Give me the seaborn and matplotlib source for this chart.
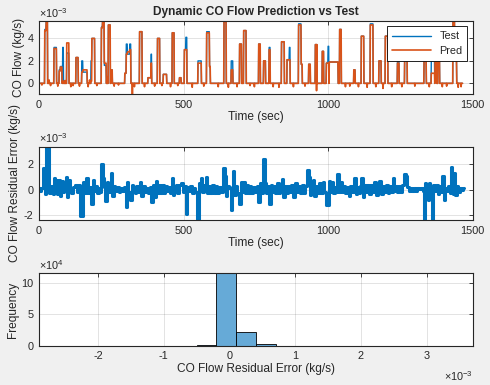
import matplotlib
matplotlib.use("Agg")
import matplotlib.pyplot as plt
from matplotlib.ticker import FuncFormatter
import seaborn as sns
import numpy as np
import pandas as pd

# ---- top panel: flow pulses (levels in 1e-3 kg/s) ----
pulse_start = [20, 25, 52, 70, 74, 82, 96, 128, 148, 152, 180, 183, 216, 220, 226, 240, 249,
               297, 302, 306, 314, 348, 377, 388, 410, 430, 461, 486, 503, 508, 550, 580, 590,
               640, 665, 694, 708, 760, 777, 796, 839, 858, 866, 898, 907, 933, 956, 980, 994,
               1000, 1004, 1040, 1089, 1115, 1146, 1176, 1198, 1240, 1265, 1332, 1357, 1370,
               1380, 1432, 1438]
pulse_end = [25, 30, 61, 74, 80, 85, 104, 136, 152, 167, 183, 193, 220, 226, 233, 247, 254,
             302, 306, 314, 318, 357, 388, 390, 418, 442, 468, 492, 508, 512, 562, 590, 593,
             648, 671, 701, 717, 766, 784, 800, 849, 866, 869, 907, 911, 939, 962, 985, 1000,
             1003, 1035, 1046, 1094, 1124, 1156, 1184, 1207, 1246, 1274, 1340, 1369, 1376,
             1386, 1438, 1445]
test_level = [4.8, 5.55, 3.2, 1.2, 1.5, 3.2, 2.7, 2.3, 2.0, 1.0, 2.0, 4.0, 5.0, 5.55, 1.6, 5.2, 1.2,
              0.9, 3.5, 2.6, 3.5, 4.6, 0.5, 2.6, 4.0, 0.8, 4.5, 0.5, 3.0, 4.1, 2.0, 4.6, 1.5,
              5.5, 2.0, 3.5, 4.7, 3.5, 2.0, 3.2, 3.7, 2.1, 3.2, 5.3, 1.7, 1.7, 3.45, 2.85, 1.8,
              3.3, 1.9, 4.8, 1.2, 4.2, 5.3, 2.0, 4.2, 2.0, 2.6, 2.0, 2.0, 2.0,
              2.5, 5.55, 2.2]
pred_level = [4.7, 5.5, 3.1, 1.1, 1.45, 0.2, 3.6, 2.3, 1.0, 1.2, 0.2, 4.0, 4.95, 5.5, 1.8, 5.2, 1.2,
              0.9, 2.6, 2.8, 3.0, 4.6, 0.5, 1.8, 4.0, 0.8, 4.5, 0.5, 3.0, 3.0, 1.8, 4.5, 1.5,
              5.5, 1.2, 3.5, 4.7, 3.5, 2.0, 3.0, 3.7, 2.1, 2.1, 5.2, 1.7, 1.7, 3.45, 2.85, 1.8,
              1.8, 1.9, 4.8, 1.2, 4.2, 5.2, 2.0, 4.2, 1.8, 2.6, 2.0, 0.9, 2.0,
              2.5, 5.55, 2.2]
# small wiggles of the prediction around zero
wiggle_t = [10, 35, 40, 65, 90, 110, 118, 140, 170, 175, 200, 235, 260, 275, 323, 330, 365, 400,
            425, 455, 480, 530, 570, 620, 655, 685, 730, 745, 810, 830, 880, 920, 960, 1060,
            1075, 1105, 1135, 1165, 1190, 1220, 1255, 1300, 1350, 1395, 1410, 1450, 1460]
wiggle_v = [-0.15, 0.3, -0.2, -0.25, 0.25, -0.3, -0.2, -0.25, -0.3, 0.3, -0.2, 0.6, -0.25, -0.15,
            -0.95, -0.3, -0.3, -0.25, -0.2, -0.3, -0.2, -0.35, -0.25, -0.3, -0.35, -0.3, -0.2,
            -0.3, -0.3, -0.35, -0.3, -0.25, -0.65, -0.3, -0.25, -0.3, -0.35, -0.3, -0.45, -0.3,
            -0.3, -0.25, -0.3, -0.3, -0.25, -0.35, -0.3]
t_end = 1465

# ---- middle panel: residual error (1e-3 kg/s) ----
res_t = [0, 5, 12, 18, 22, 28, 31, 33, 36, 41, 45, 50, 53, 57, 60, 65, 70, 75, 80, 85, 90, 96, 99,
         104, 108, 116, 122, 128, 132, 138, 145, 148, 152, 155, 160, 168, 172, 178, 183, 188, 193,
         198, 204, 210, 214, 218, 222, 226, 232, 236, 241, 247, 252, 256, 261, 266, 272, 278, 284,
         290, 296, 303, 307, 312, 318, 322, 328, 334, 340, 346, 352, 357, 362, 368, 374, 380, 386,
         391, 395, 400, 406, 411, 416, 422, 428, 434, 440, 446, 452, 457, 462, 466, 470, 476, 481,
         487, 494, 500, 505, 511, 515, 520, 526, 532, 538, 543, 547, 551, 555, 560, 563, 568, 574,
         580, 584, 590, 596, 602, 608, 614, 620, 626, 632, 640, 644, 648, 654, 660, 666, 671, 674,
         678, 684, 689, 695, 699, 704, 710, 714, 720, 726, 732, 738, 744, 750, 755, 761, 766, 771,
         776, 780, 784, 788, 794, 799, 803, 808, 814, 820, 826, 832, 838, 843, 848, 853, 858, 864,
         870, 876, 882, 888, 894, 900, 906, 912, 918, 924, 931, 934, 938, 944, 950, 955, 960, 966,
         972, 978, 984, 990, 995, 1001, 1005, 1010, 1015, 1020, 1026, 1030, 1035, 1039, 1044,
         1050, 1056, 1062, 1068, 1074, 1080, 1086, 1093, 1097, 1102, 1108, 1113, 1118, 1122,
         1128, 1133, 1139, 1145, 1150, 1156, 1162, 1168, 1174, 1180, 1186, 1192, 1198, 1203,
         1208, 1214, 1220, 1226, 1231, 1237, 1242, 1248, 1254, 1260, 1266, 1272, 1276, 1282,
         1288, 1294, 1300, 1306, 1312, 1318, 1324, 1330, 1335, 1338, 1342, 1346, 1350, 1356,
         1361, 1365, 1370, 1376, 1381, 1386, 1392, 1399, 1403, 1408, 1413, 1418, 1422, 1427,
         1431, 1434, 1438, 1442, 1447, 1452, 1458, 1464, 1470]
res_v = [0.1, -0.1, 0.15, 1.75, -0.35, 3.4, 0.2, 3.3, -0.3, -0.25, 0.3, -0.35, 0.9, 0.1, 0.8, -0.35,
         0.8, -0.5, 0.7, -0.2, 0.3, 1.0, -0.6, 0.8, 0.1, -0.25, 0.2, 0.4, -0.2, 0.35, -2.1, -2.0,
         -2.1, 0.6, -0.3, 0.9, -0.25, 0.2, -1.1, 0.8, -0.1, 0.3, -0.25, 0.1, -0.2, 2.0, 0.9, 0.2,
         -0.9, 0.6, -0.2, 0.3, 1.35, -0.5, 0.3, -0.1, 0.2, -0.2, 0.15, -0.1, 0.2, -1.35, 0.6, -0.2,
         -0.85, 0.4, -0.1, -0.25, 0.3, -0.2, 0.6, -0.5, 0.3, -0.2, 0.15, -0.3, 0.2, -0.95, 0.4,
         -0.6, 0.65, -0.25, 0.4, -0.3, 0.4, -0.25, 0.3, -0.1, 0.2, -0.3, 0.9, -0.4, 0.3, 0.4, -0.3,
         0.35, 0.5, -0.2, 0.3, -1.95, 0.2, -0.1, 0.25, -0.3, 0.1, -0.2, -2.35, -2.35, 0.5, 0.1, 0.9,
         -0.2, 0.4, 1.0, -0.3, 0.3, -0.3, 0.4, -0.25, 0.3, -0.3, 0.2, -0.2, 1.75, 1.1, -0.5, 0.3,
         0.1, -1.6, 0.2, 1.45, -0.4, 0.3, -0.25, -1.1, 0.6, -0.2, 0.6, -0.25, 0.4, -0.3, 0.3,
         -0.25, 0.2, -0.2, 0.3, -1.0, 0.55, -0.3, 2.45, 2.4, 0.5, -0.3, 0.3, -1.1, 0.4, -0.2, 0.3,
         -0.25, 0.5, -0.3, 0.3, 0.85, -0.6, 0.3, -0.25, 0.3, -0.2, 0.4, -0.6, 0.55, -0.2, 0.3,
         -0.3, 0.4, -0.3, 0.3, 1.55, 1.0, -0.4, 0.3, 0.75, -0.5, 0.3, -0.3, 0.55, -0.25, 0.6,
         -0.2, -1.25, -1.25, 0.65, -0.2, 0.6, -0.3, 0.2, -0.2, 1.2, -0.2, 0.6, -0.2, 0.3, -0.3,
         0.2, -0.5, 0.3, -0.2, 0.9, -0.35, 0.2, -0.3, 0.3, 0.9, -0.6, 0.4, -0.2, 0.4, -0.35, 0.4,
         -0.2, 0.6, -0.45, 0.3, 0.7, -0.35, 0.3, -0.2, 0.4, -0.25, 0.3, -0.2, 0.9, -0.1, 0.3,
         -0.2, 0.3, -0.15, 0.4, 1.2, 1.1, 0.2, -0.1, 0.1, -0.1, 0.15, -0.1, 0.1, 0.05, 0.1, -0.1,
         -2.4, 0.5, 0.4, -0.85, 0.5, 0.3, -2.4, 0.4, -0.1, 0.4, -0.35, 0.3, -0.2, 1.05, -0.8,
         0.1, -0.1, 0.3, -0.3, 1.8, 1.3, -0.35, 1.3, -0.4, 0.3, -0.2, 0.15, 0.0, 0.1]

# ---- bottom panel: histogram of residuals ----
bin_lo, bin_w, n_bins = -2.9e-3, 0.3e-3, 22
hist_counts = [3, 5, 8, 10, 15, 30, 60, 150, 900, 130000, 21500, 2800, 300, 80, 30, 15, 8, 5, 3,
               2, 2, 1]

# build the step series from the pulse table
t = np.arange(0, t_end + 1)
test = np.zeros(len(t))
pred = np.zeros(len(t))
for s, e, a, b in zip(pulse_start, pulse_end, test_level, pred_level):
    m = (t >= s) & (t < e)
    test[m] = a * 1e-3
    pred[m] = b * 1e-3
for wt, wv in zip(wiggle_t, wiggle_v):
    pred[t == wt] = wv * 1e-3
flow = pd.DataFrame({"time": t, "test": test, "pred": pred})
res = pd.DataFrame({"time": res_t, "err": np.array(res_v) * 1e-3})
edges = [bin_lo + bin_w * k for k in range(n_bins + 1)]
hist = pd.DataFrame({"center": [(edges[k] + edges[k + 1]) / 2 for k in range(n_bins)],
                     "count": hist_counts})

sns.set_style("white")
plt.rcParams["font.family"] = ["Liberation Sans", "DejaVu Sans"]
plt.rcParams["mathtext.fontset"] = "custom"
plt.rcParams["mathtext.rm"] = "Liberation Sans"
plt.rcParams["mathtext.it"] = "Liberation Sans"

BLUE = "#0072BD"
ORANGE = "#D95319"
DARK = "#262626"
FS = 7.8

fig = plt.figure(figsize=(4.9, 3.85), dpi=100, facecolor="#f0f0f0")
ax1 = fig.add_axes([0.0796, 0.7558, 0.885, 0.1896])
ax2 = fig.add_axes([0.0796, 0.4286, 0.885, 0.1904])
ax3 = fig.add_axes([0.0796, 0.1021, 0.885, 0.1881])

milli = FuncFormatter(lambda v, p: f"{v * 1e3:g}")


def style(ax):
    ax.set_facecolor("white")
    ax.set_axisbelow(True)
    ax.grid(True, color=DARK, alpha=0.15, linewidth=0.6)
    ax.tick_params(direction="in", top=True, right=True, length=3, width=0.6,
                   colors=DARK, labelsize=FS, pad=4)
    for sp in ax.spines.values():
        sp.set_color(DARK)
        sp.set_linewidth(0.8)
        sp.set_visible(True)


def corner(ax, x, y, txt, ha="left", va="bottom"):
    ax.text(x, y, txt, transform=ax.transAxes, ha=ha, va=va, fontsize=FS, color=DARK)


# top: test vs prediction
sns.lineplot(data=flow, x="time", y="test", ax=ax1, color=BLUE, linewidth=1.0,
             estimator=None, label="Test")
sns.lineplot(data=flow, x="time", y="pred", ax=ax1, color=ORANGE, linewidth=1.2,
             estimator=None, label="Pred")
ax1.set_xlim(0, 1500)
ax1.set_ylim(min(test.min(), pred.min()), max(test.max(), pred.max()))
ax1.set_xticks([0, 500, 1000, 1500])
ax1.set_yticks([0, 2e-3, 4e-3])
ax1.yaxis.set_major_formatter(milli)
ax1.set_xlabel("Time (sec)", fontsize=8.6, color=DARK, labelpad=1)
ax1.set_ylabel("CO Flow (kg/s)", fontsize=8.6, color=DARK, labelpad=2)
ax1.set_title("Dynamic CO Flow Prediction vs Test", fontsize=8.6, fontweight="bold", pad=4)
style(ax1)
corner(ax1, 0.0, 1.02, r"$\times10^{-3}$")
leg = ax1.legend(loc="upper right", fontsize=FS, fancybox=False, framealpha=1,
                 edgecolor="black", handlelength=3.6, borderpad=0.45, labelspacing=0.45,
                 borderaxespad=0.5)
leg.get_frame().set_linewidth(0.6)

# middle: residual
sns.lineplot(data=res, x="time", y="err", ax=ax2, color=BLUE, linewidth=2.2, estimator=None,
             drawstyle="steps-mid")
ax2.set_xlim(0, 1500)
ax2.set_ylim(res["err"].min(), res["err"].max())
ax2.set_xticks([0, 500, 1000, 1500])
ax2.set_yticks([-2e-3, 0, 2e-3])
ax2.yaxis.set_major_formatter(milli)
ax2.set_xlabel("Time (sec)", fontsize=8.6, color=DARK, labelpad=1)
ax2.set_ylabel("CO Flow Residual Error (kg/s)", fontsize=8.6, color=DARK, labelpad=2)
style(ax2)
corner(ax2, 0.0, 1.02, r"$\times10^{-3}$")

# bottom: histogram
sns.histplot(data=hist, x="center", weights="count", bins=edges, ax=ax3, color="#66AAD7",
             alpha=1, edgecolor="black", linewidth=0.6)
ax3.set_xlim(edges[0], edges[-1])
ax3.set_ylim(0, 1.16e5)
ax3.set_xticks([-2e-3, -1e-3, 0, 1e-3, 2e-3, 3e-3])
ax3.set_yticks([0, 5e4, 1e5])
ax3.xaxis.set_major_formatter(milli)
ax3.yaxis.set_major_formatter(FuncFormatter(lambda v, p: f"{v / 1e4:g}"))
ax3.set_xlabel("CO Flow Residual Error (kg/s)", fontsize=8.6, color=DARK, labelpad=1)
ax3.set_ylabel("Frequency", fontsize=8.6, color=DARK, labelpad=2)
style(ax3)
corner(ax3, 0.0, 1.02, r"$\times10^{4}$")
corner(ax3, 1.0, -0.42, r"$\times10^{-3}$", ha="right", va="center")

fig.savefig("out.png", dpi=100, facecolor=fig.get_facecolor())
